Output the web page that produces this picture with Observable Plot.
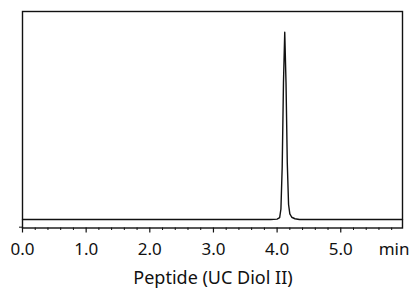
<!DOCTYPE html>
<html>
<head>
<meta charset="utf-8">
<script src="https://cdn.jsdelivr.net/npm/d3@7"></script>
<script src="https://cdn.jsdelivr.net/npm/@observablehq/plot@0.6"></script>
<style>
  html, body { margin: 0; padding: 0; background: #fff; }
  #wrap { width: 410px; height: 288px; position: relative; overflow: hidden; }
  #title { position: absolute; left: 0; width: 426px; top: 266px; text-align: center;
    font-family: "Noto Sans", sans-serif; font-size: 18px; line-height: 22px; color: #111; }
</style>
</head>
<body>
<div id="wrap"><div id="chart"></div><div id="title">Peptide (UC Diol II)</div></div>
<script>
// Chromatogram trace (time in min, relative intensity)
const times = [0, 3.9, 4.0, 4.04, 4.06, 4.08, 4.10, 4.12, 4.14, 4.16, 4.18, 4.20, 4.23, 4.28, 4.35, 5.97];
const signal = [0, 0, 0.2, 1, 5.6, 28, 73, 100, 73, 30, 8, 3, 1.2, 0.4, 0, 0];
const majorTicks = [0, 1, 2, 3, 4, 5];
const minorTicks = [0.2, 0.4, 0.6, 0.8, 1.2, 1.4, 1.6, 1.8, 2.2, 2.4, 2.6, 2.8, 3.2, 3.4, 3.6, 3.8, 4.2, 4.4, 4.6, 4.8, 5.2, 5.4, 5.6, 5.8];
const yTicks = [-4.1];
const unitLabel = "min";

const data = times.map((t, i) => ({t, v: signal[i]}));

const chart = Plot.plot({
  width: 410,
  height: 262,
  marginLeft: 22,
  marginRight: 8,
  marginTop: 11,
  marginBottom: 34.5,
  style: {fontFamily: "Noto Sans, sans-serif", fontSize: "17px", color: "#111", background: "#fff"},
  x: {domain: [0, 5.97]},
  y: {domain: [-4.54, 111.05]},
  marks: [
    Plot.frame({stroke: "#111", strokeWidth: 1.4}),
    Plot.axisX({ticks: minorTicks, tickSize: 2.5, tickFormat: () => "", label: null, strokeWidth: 1}),
    Plot.axisX({ticks: majorTicks, tickSize: 5, tickPadding: 10, tickFormat: d => d.toFixed(1), label: null, fontSize: 17, strokeWidth: 1.2}),
    Plot.axisY({ticks: yTicks, tickSize: 3, tickFormat: () => "", label: null}),
    Plot.line(data, {x: "t", y: "v", stroke: "#111", strokeWidth: 1.4}),
    Plot.text([unitLabel], {frameAnchor: "bottom-right", textAnchor: "end", lineAnchor: "top", dx: 7, dy: 15, fontSize: 17, fill: "#111"})
  ]
});
document.getElementById("chart").appendChild(chart);
</script>
</body>
</html>
